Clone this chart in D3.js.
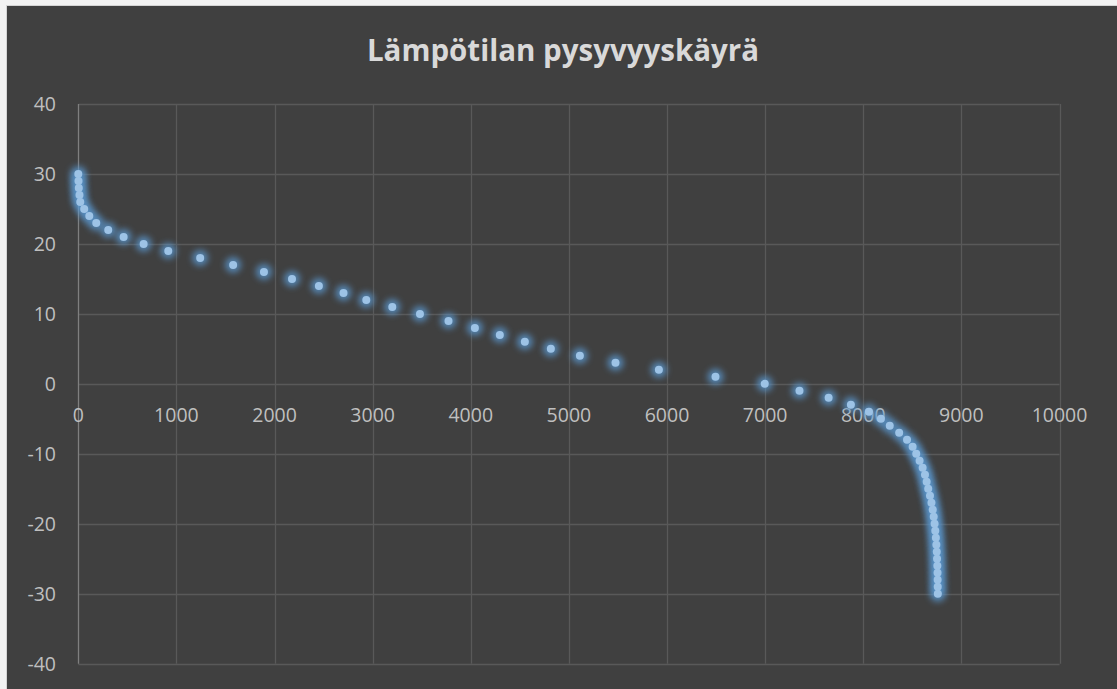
<!DOCTYPE html>
<html>
<head>
<meta charset="utf-8">
<script src="https://cdn.jsdelivr.net/npm/d3@7"></script>
<style>
  html, body { margin: 0; padding: 0; background: #f2f2f2; }
  svg { display: block; }
</style>
</head>
<body>
<div id="chart"></div>
<script>
// Data: temperature (°C) and hours it is exceeded
var chartTitle = "Lämpötilan pysyvyyskäyrä";
var temperatures = [30, 29, 28, 27, 26, 25, 24, 23, 22, 21, 20, 19, 18, 17, 16, 15, 14, 13, 12, 11,
  10, 9, 8, 7, 6, 5, 4, 3, 2, 1, 0, -1, -2, -3, -4, -5, -6, -7, -8, -9, -10,
  -11, -12, -13, -14, -15, -16, -17, -18, -19, -20, -21, -22, -23, -24, -25, -26, -27, -28, -29, -30];
var hours = [0, 2, 5, 12, 20, 60, 112, 183, 305, 462, 666, 917, 1242, 1578, 1892, 2178, 2452, 2703, 2935, 3200,
  3482, 3773, 4042, 4296, 4551, 4816, 5112, 5475, 5917, 6494, 6996, 7350, 7647, 7874, 8058, 8180, 8270, 8366, 8446, 8503, 8540,
  8574, 8605, 8629, 8646, 8662, 8680, 8695, 8708, 8718, 8727, 8734, 8740, 8745, 8749, 8752, 8755, 8757, 8758, 8759, 8760];
var xTicks = [0, 1000, 2000, 3000, 4000, 5000, 6000, 7000, 8000, 9000, 10000];
var yTicks = [40, 30, 20, 10, 0, -10, -20, -30, -40];

var data = temperatures.map(function(t, i) { return { hours: hours[i], temp: t }; });

var W = 1117, H = 689;
var plot = { left: 78.3, right: 1059.5, top: 104, bottom: 663.7 };

var svg = d3.select("#chart").append("svg")
  .attr("width", W)
  .attr("height", H);

// glow filter for markers
var defs = svg.append("defs");
var glow = defs.append("filter").attr("id", "glow")
  .attr("x", "-100%").attr("y", "-100%").attr("width", "300%").attr("height", "300%");
glow.append("feGaussianBlur").attr("stdDeviation", 3.2);

// chart background
svg.append("rect")
  .attr("x", 6.5).attr("y", 5.5)
  .attr("width", W).attr("height", H)
  .attr("fill", "#404040")
  .attr("stroke", "#d4d4d4")
  .attr("stroke-width", 1);

var x = d3.scaleLinear().domain([0, 10000]).range([plot.left, plot.right]);
var y = d3.scaleLinear().domain([-40, 40]).range([plot.bottom, plot.top]);

// gridlines
svg.append("g").selectAll("line.hgrid")
  .data(yTicks)
  .enter().append("line")
  .attr("x1", plot.left).attr("x2", plot.right)
  .attr("y1", function(d) { return Math.round(y(d)) + 0.5; })
  .attr("y2", function(d) { return Math.round(y(d)) + 0.5; })
  .attr("stroke", "#595959").attr("stroke-width", 1.3);

svg.append("g").selectAll("line.vgrid")
  .data(xTicks.slice(1))
  .enter().append("line")
  .attr("y1", plot.top).attr("y2", plot.bottom)
  .attr("x1", function(d) { return Math.round(x(d)) + 0.5; })
  .attr("x2", function(d) { return Math.round(x(d)) + 0.5; })
  .attr("stroke", "#595959").attr("stroke-width", 1.3);

// vertical axis line at x = 0
svg.append("line")
  .attr("x1", Math.round(x(0)) + 0.5).attr("x2", Math.round(x(0)) + 0.5)
  .attr("y1", plot.top).attr("y2", plot.bottom)
  .attr("stroke", "#7f7f7f").attr("stroke-width", 1.3);

// y tick labels
svg.append("g").selectAll("text")
  .data(yTicks)
  .enter().append("text")
  .attr("x", 56)
  .attr("y", function(d) { return y(d); })
  .attr("dy", "0.36em")
  .attr("text-anchor", "end")
  .attr("fill", "#bfbfbf")
  .style("font-family", "'Open Sans', sans-serif")
  .style("font-size", "19.5px")
  .text(function(d) { return d; });

// x tick labels, placed under the zero line
svg.append("g").selectAll("text")
  .data(xTicks)
  .enter().append("text")
  .attr("x", function(d) { return x(d); })
  .attr("y", y(0) + 31)
  .attr("dy", "0.36em")
  .attr("text-anchor", "middle")
  .attr("fill", "#bfbfbf")
  .style("font-family", "'Open Sans', sans-serif")
  .style("font-size", "19.5px")
  .text(function(d) { return d; });

// title
svg.append("text")
  .attr("x", 563)
  .attr("y", 61)
  .attr("text-anchor", "middle")
  .attr("fill", "#d9d9d9")
  .style("font-family", "'Open Sans', sans-serif")
  .style("font-weight", "bold")
  .style("font-size", "29.5px")
  .text(chartTitle);

// glow behind points
svg.append("g").selectAll("circle")
  .data(data)
  .enter().append("circle")
  .attr("cx", function(d) { return x(d.hours); })
  .attr("cy", function(d) { return y(d.temp); })
  .attr("r", 8)
  .attr("fill", "#5b9bd5")
  .attr("opacity", 0.75)
  .attr("filter", "url(#glow)");

// points
svg.append("g").selectAll("circle")
  .data(data)
  .enter().append("circle")
  .attr("cx", function(d) { return x(d.hours); })
  .attr("cy", function(d) { return y(d.temp); })
  .attr("r", 4)
  .attr("fill", "#9dc3e6");
</script>
</body>
</html>
